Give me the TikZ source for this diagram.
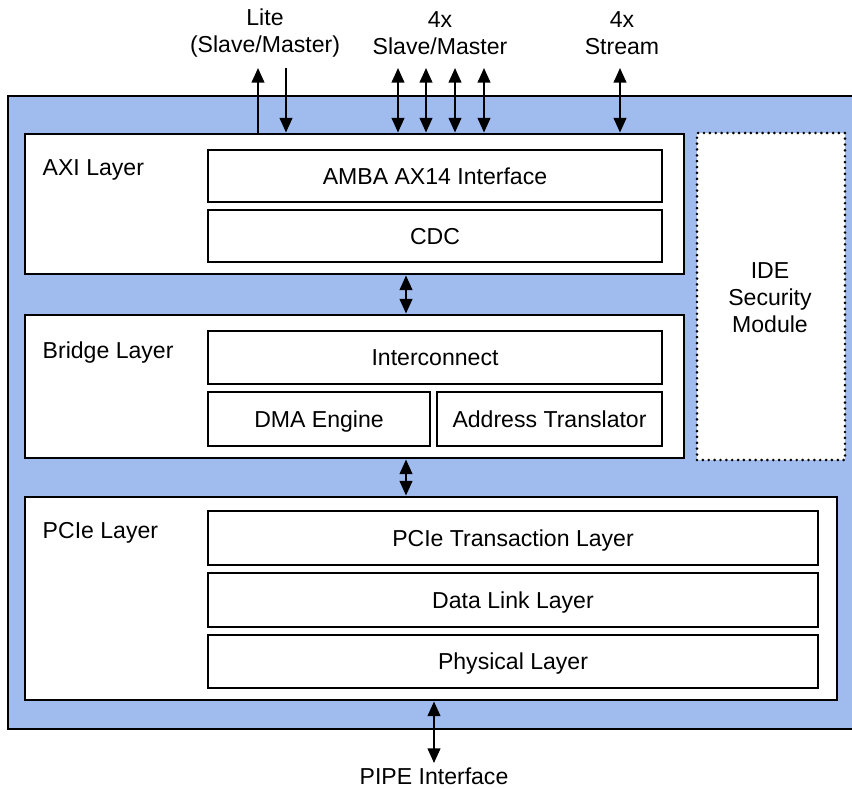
\documentclass[tikz,border=0pt]{standalone}
\usepackage{fontspec}
\setmainfont{Liberation Sans}
\usepackage{tikz}
\usetikzlibrary{arrows.meta,fit,positioning}
\definecolor{bgblue}{RGB}{160,187,238}

\tikzset{
  txt/.style={font=\fontsize{17.3}{20.3}\selectfont, align=center},
  one/.style={txt, text height=12.4pt, text depth=0pt},
  box/.style={draw, line width=2.2pt, fill=white, inner sep=0pt},
  layer/.style={box},
  dotbox/.style={draw, line width=2.2pt, line cap=round, dash pattern=on 0pt off 4.4pt, fill=white, inner sep=0pt},
  arr/.style={line width=1.6pt, -{Triangle[length=11pt,width=9.5pt]}},
  darr/.style={line width=1.6pt, {Triangle[length=11pt,width=9.5pt]}-{Triangle[length=11pt,width=9.5pt]}}
}

\begin{document}
\begin{tikzpicture}[x=0.75pt, y=-0.75pt]
	\useasboundingbox (0,0) rectangle (852,788);
	% outer block
	\draw[line width=2.2pt, fill=bgblue] (8,96) rectangle (880,729);

	% AXI layer
	\node[layer, fit={(25,134) (684,274)}] (axi) {};
	\node[one, anchor=west] (axilbl) at (38,167) {AXI Layer};
	\node[box, fit={(208,150) (662,202)}] (amba) {};
	\node[one] at (amba) {AMBA AX14 Interface};
	\node[box, fit={(208,210) (662,262)}] (cdc) {};
	\node[one] at (cdc) {CDC};

	% bridge layer
	\node[layer, fit={(25,315) (684,458)}] (bridge) {};
	\node[one, anchor=west] (brlbl) at (38,350) {Bridge Layer};
	\node[box, fit={(208,331) (662,384)}] (icon) {};
	\node[one] at (icon) {Interconnect};
	\node[box, fit={(208,392) (430,446)}] (dma) {};
	\node[one] at (dma) {DMA Engine};
	\node[box, fit={(437,392) (662,446)}] (atrans) {};
	\node[one] at (atrans) {Address Translator};

	% PCIe layer
	\node[layer, fit={(25,497) (837,700)}] (pcie) {};
	\node[one, anchor=west] (pcielbl) at (38,530) {PCIe Layer};
	\node[box, fit={(208,511) (818,565)}] (tl) {};
	\node[one] at (tl) {PCIe Transaction Layer};
	\node[box, fit={(208,573) (818,627)}] (dll) {};
	\node[one] at (dll) {Data Link Layer};
	\node[box, fit={(208,635) (818,688)}] (phy) {};
	\node[one] at (phy) {Physical Layer};

	% security module
	\node[dotbox, fit={(697,133) (845,460)}] (ide) {};
	\node[txt] (idelbl) at (770,298) {IDE\\Security\\Module};

	% external labels
	\node[txt] (lite) at (265,33) {Lite\\(Slave/Master)};
	\node[txt] (smlbl) at (440,33) {4x\\Slave/Master};
	\node[txt] (stlbl) at (622,33) {4x\\Stream};
	\node[one] (pipe) at (434,776) {PIPE Interface};

	% ports
	\coordinate (liteup) at (258,68);
	\coordinate (litedn) at (286,68);
	\draw[arr] (liteup |- axi.north) -- (liteup);
	\draw[arr] (litedn) -- (litedn |- axi.north);
	\foreach \x [count=\i] in {398,426,455,484} {
		\coordinate (sm\i) at (\x,68);
		\draw[darr] (sm\i) -- (sm\i |- axi.north);
	}
	\coordinate (stream) at (620,68);
	\draw[darr] (stream) -- (stream |- axi.north);

	% links between layers
	\coordinate (link) at (406,0);
	\draw[darr] (axi.south -| link) -- (bridge.north -| link);
	\draw[darr] (bridge.south -| link) -- (pcie.north -| link);
	\draw[darr] (pcie.south -| pipe) -- (pipe.north);
\end{tikzpicture}
\end{document}
